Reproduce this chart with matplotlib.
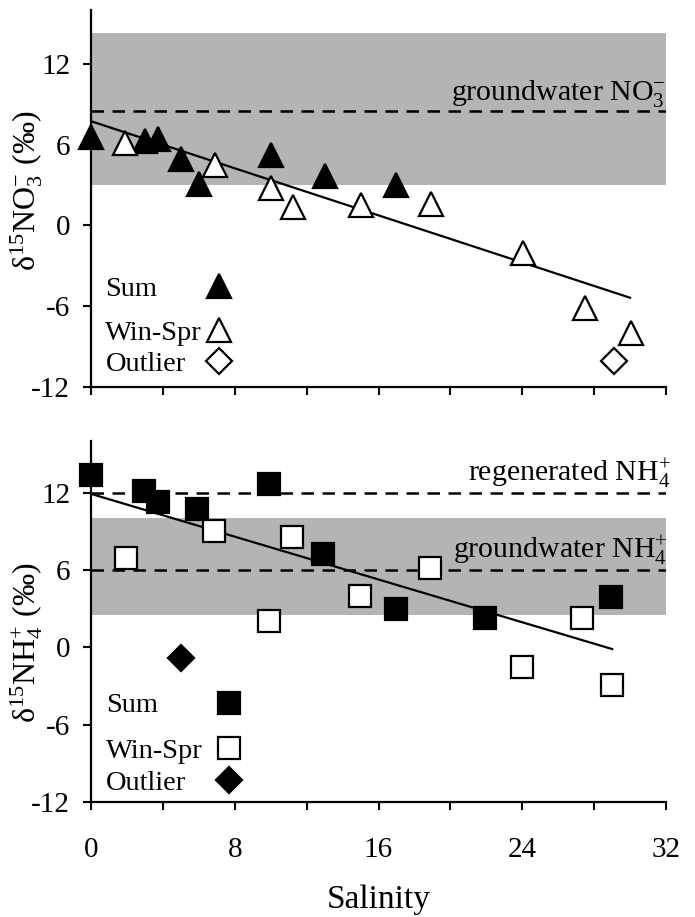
import matplotlib
matplotlib.use("Agg")
import matplotlib.pyplot as plt

plt.rcParams['font.family'] = ['Liberation Serif', 'DejaVu Serif']
plt.rcParams['mathtext.fontset'] = 'custom'
plt.rcParams['mathtext.rm'] = 'Liberation Serif'
plt.rcParams['mathtext.it'] = 'Liberation Serif:italic'
plt.rcParams['mathtext.bf'] = 'Liberation Serif:bold'
plt.rcParams['axes.unicode_minus'] = False

# ---- data: nitrate panel
no3_sum_sal = [0, 3, 3.75, 5, 6, 10, 13, 17]
no3_sum_d15 = [6.6, 6.25, 6.4, 4.95, 3.05, 5.25, 3.65, 3.0]
no3_ws_sal = [1.9, 6.9, 10, 11.25, 15.05, 18.9, 24.05, 27.5, 30.05]
no3_ws_d15 = [6.1, 4.5, 2.8, 1.4, 1.5, 1.6, -2.05, -6.15, -8.0]
no3_out_sal = [29.1]
no3_out_d15 = [-10.1]
no3_fit = (7.74, -0.437)       # intercept, slope
no3_fit_range = (0, 30.0)
no3_band = (3.0, 14.3)
no3_gw = 8.5

# ---- data: ammonium panel
nh4_sum_sal = [0, 2.95, 3.75, 5.9, 9.9, 12.9, 16.95, 21.95, 28.95]
nh4_sum_d15 = [13.4, 12.1, 11.3, 10.75, 12.65, 7.25, 2.95, 2.3, 3.9]
nh4_ws_sal = [1.95, 6.85, 9.9, 11.2, 14.95, 18.85, 24.0, 27.35, 29.0]
nh4_ws_d15 = [6.9, 9.0, 2.0, 8.55, 4.0, 6.15, -1.55, 2.3, -2.95]
nh4_out_sal = [5.0]
nh4_out_d15 = [-0.8]
nh4_fit = (11.9, -0.415)
nh4_fit_range = (0, 29.0)
nh4_band = (2.5, 10.0)
nh4_regen = 12.0
nh4_gw = 6.0

yticks = [-12, -6, 0, 6, 12]
xticks_major = [0, 8, 16, 24, 32]
xticks_minor = [4, 12, 20, 28]

W, H = 695, 917
fig = plt.figure(figsize=(W / 100, H / 100), dpi=100)
ax1 = fig.add_axes([91 / W, 1 - 387 / H, 575 / W, 377 / H])
ax2 = fig.add_axes([91 / W, 1 - 802 / H, 575 / W, 361 / H])

band_color = '#b4b4b4'
dash = (0, (5, 3.4))


def style_axes(ax, show_xlabels):
    ax.set_xlim(0, 32)
    ax.set_ylim(-12, 16)
    for s in ['top', 'right']:
        ax.spines[s].set_visible(False)
    for s in ['left', 'bottom']:
        ax.spines[s].set_linewidth(1.6)
    ax.set_yticks(yticks)
    ax.set_xticks(xticks_major)
    ax.set_xticks(xticks_minor, minor=True)
    ax.tick_params(axis='both', which='both', direction='out', length=6,
                   width=1.5, labelsize=21)
    ax.tick_params(axis='y', pad=9)
    ax.tick_params(axis='x', pad=19)
    if not show_xlabels:
        ax.set_xticklabels([])


def draw_fit(ax, fit, rng):
    b, m = fit
    xs = list(rng)
    ax.plot(xs, [b + m * x for x in xs], color='black', lw=1.6, zorder=3)


def legend_keys(ax, entries, xtext, xmark):
    for label, y, mk, face, ms in entries:
        ax.text(xtext, y - 0.25, label, fontsize=20.5, va='center', ha='left')
        ax.plot([xmark], [y], marker=mk, ms=ms, mfc=face, mec='black',
                mew=1.6, ls='none', clip_on=False)


# ---- top panel
style_axes(ax1, False)
ax1.axhspan(*no3_band, color=band_color, lw=0, zorder=0)
ax1.axhline(no3_gw, color='black', lw=1.8, ls=dash, zorder=1)
ax1.text(32, no3_gw + 0.15, 'groundwater NO$_3^{-}$', ha='right', va='bottom',
         fontsize=21.5)
draw_fit(ax1, no3_fit, no3_fit_range)
ax1.plot(no3_sum_sal, no3_sum_d15, ls='none', marker='^', ms=17, mfc='black',
         mec='black', mew=1.6, clip_on=False, zorder=4)
ax1.plot(no3_ws_sal, no3_ws_d15, ls='none', marker='^', ms=17, mfc='white',
         mec='black', mew=1.6, clip_on=False, zorder=4)
ax1.plot(no3_out_sal, no3_out_d15, ls='none', marker='D', ms=13, mfc='white',
         mec='black', mew=1.6, clip_on=False, zorder=4)
legend_keys(ax1, [('Sum', -4.5, '^', 'black', 17),
                  ('Win-Spr', -7.8, '^', 'white', 17),
                  ('Outlier', -10.1, 'D', 'white', 13)], 0.8, 7.1)
ax1.set_ylabel('δ$^{15}$NO$_3^{-}$ (‰)', fontsize=23)
ax1.yaxis.set_label_coords(-0.08, 0.52)

# ---- bottom panel
style_axes(ax2, True)
ax2.axhspan(*nh4_band, color=band_color, lw=0, zorder=0)
ax2.axhline(nh4_regen, color='black', lw=1.8, ls=dash, zorder=1)
ax2.axhline(nh4_gw, color='black', lw=1.8, ls=dash, zorder=1)
ax2.text(32.3, nh4_regen + 0.15, 'regenerated NH$_4^{+}$', ha='right',
         va='bottom', fontsize=21.5)
ax2.text(32.1, nh4_gw + 0.15, 'groundwater NH$_4^{+}$', ha='right',
         va='bottom', fontsize=21.5)
draw_fit(ax2, nh4_fit, nh4_fit_range)
ax2.plot(nh4_sum_sal, nh4_sum_d15, ls='none', marker='s', ms=16.5,
         mfc='black', mec='black', mew=1.6, clip_on=False, zorder=4)
ax2.plot(nh4_ws_sal, nh4_ws_d15, ls='none', marker='s', ms=16.5,
         mfc='white', mec='black', mew=1.6, clip_on=False, zorder=4)
ax2.plot(nh4_out_sal, nh4_out_d15, ls='none', marker='D', ms=13.5,
         mfc='black', mec='black', mew=1.6, clip_on=False, zorder=4)
legend_keys(ax2, [('Sum', -4.3, 's', 'black', 16.5),
                  ('Win-Spr', -7.8, 's', 'white', 16.5),
                  ('Outlier', -10.3, 'D', 'black', 13.5)], 0.85, 7.7)
ax2.set_ylabel('δ$^{15}$NH$_4^{+}$ (‰)', fontsize=23)
ax2.yaxis.set_label_coords(-0.08, 0.44)
ax2.set_xlabel('Salinity', fontsize=24, labelpad=16)

fig.savefig('out.png', dpi=100)
